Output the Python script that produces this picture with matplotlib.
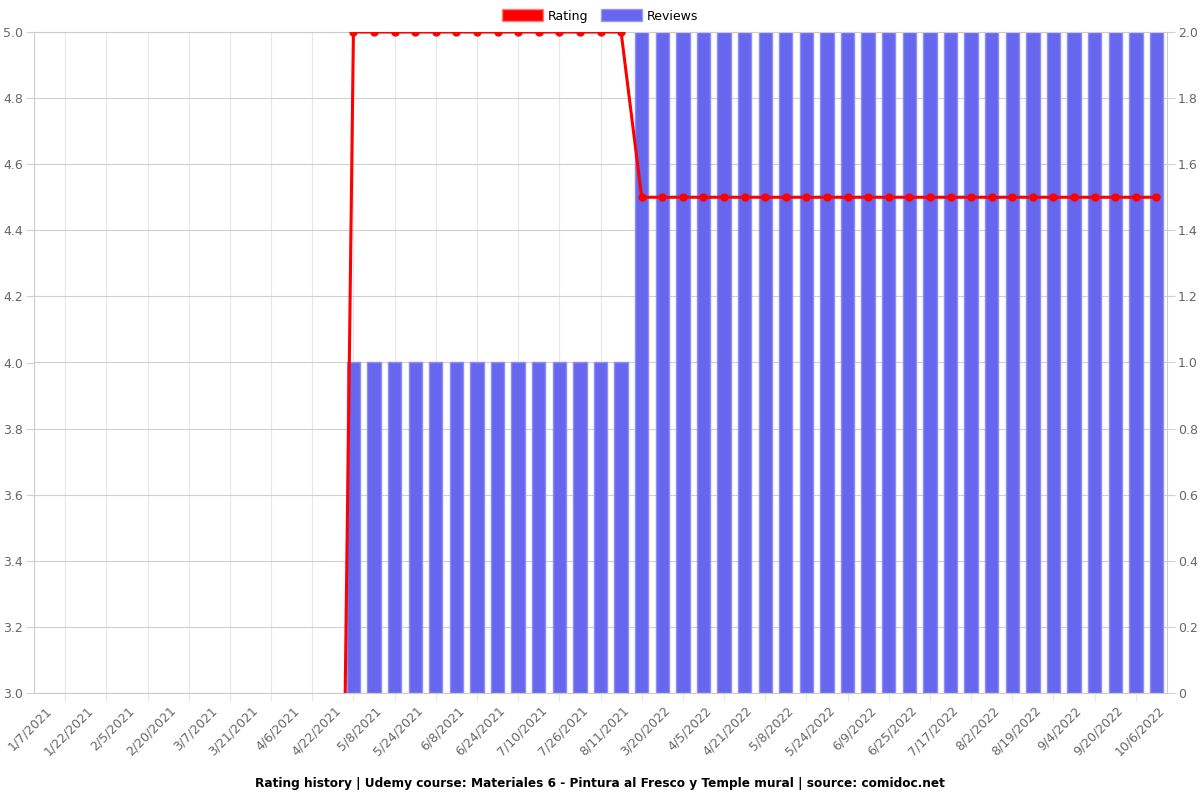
import matplotlib
matplotlib.use("Agg")
import matplotlib.pyplot as plt
import matplotlib.transforms as mtransforms
import numpy as np
from matplotlib.patches import Patch

# labels visible under the axis (every second category is labelled)
tick_labels = ["1/7/2021", "1/22/2021", "2/5/2021", "2/20/2021", "3/7/2021", "3/21/2021",
               "4/6/2021", "4/22/2021", "5/8/2021", "5/24/2021", "6/8/2021", "6/24/2021",
               "7/10/2021", "7/26/2021", "8/11/2021", "3/20/2022", "4/5/2022", "4/21/2022",
               "5/8/2022", "5/24/2022", "6/9/2022", "6/25/2022", "7/17/2022", "8/2/2022",
               "8/19/2022", "9/4/2022", "9/20/2022", "10/6/2022"]

# one value per category (55 categories)
rating = [0, 0, 0, 0, 0, 0, 0, 0, 0, 0, 0, 0, 0, 0, 0,
          5.0, 5.0, 5.0, 5.0, 5.0, 5.0, 5.0, 5.0, 5.0, 5.0, 5.0, 5.0, 5.0, 5.0,
          4.5, 4.5, 4.5, 4.5, 4.5, 4.5, 4.5, 4.5, 4.5, 4.5, 4.5, 4.5, 4.5,
          4.5, 4.5, 4.5, 4.5, 4.5, 4.5, 4.5, 4.5, 4.5, 4.5, 4.5, 4.5, 4.5]
reviews = [0, 0, 0, 0, 0, 0, 0, 0, 0, 0, 0, 0, 0, 0, 0,
           1, 1, 1, 1, 1, 1, 1, 1, 1, 1, 1, 1, 1, 1,
           2, 2, 2, 2, 2, 2, 2, 2, 2, 2, 2, 2, 2,
           2, 2, 2, 2, 2, 2, 2, 2, 2, 2, 2, 2, 2]

title = "Rating history | Udemy course: Materiales 6 - Pintura al Fresco y Temple mural | source: comidoc.net"

x = np.arange(len(rating))
label_pos = x[::2]
grid_pos = x[1::2]

fig = plt.figure(figsize=(12, 8), dpi=100)
ax = fig.add_axes([34.3 / 1200, 1 - 693 / 800, (1166.7 - 34.3) / 1200, (693 - 32) / 800])
ax2 = ax.twinx()

# reviews bars on the primary axes, their scale shown on the right
edge = ["none" if v == 0 else "#8f8ff3" for v in reviews]
ax.bar(x, reviews, width=0.65, color="#6666ee", edgecolor=edge, linewidth=1, zorder=2)
ax.set_ylim(0, 2)
ax.set_xlim(-0.5, len(rating) - 0.5)
ax.set_yticks(np.arange(0, 2.01, 0.2))
ax.set_yticklabels(["0"] + ["%.1f" % v for v in np.arange(0.2, 2.01, 0.2)])
ax.yaxis.tick_right()
ax.tick_params(axis="y", labelcolor="#666666", color="#d0d0d0", labelsize=9, length=6, width=0.8, pad=2)
ax.grid(axis="y", color="#d0d0d0", linewidth=0.8, zorder=0)

ax.set_xticks(label_pos)
ax.set_xticklabels(tick_labels, rotation=45, ha="right", rotation_mode="anchor")
ax.set_xticks(grid_pos, minor=True)
ax.tick_params(axis="x", which="major", length=0, labelsize=9, labelcolor="#666666", pad=8)
ax.tick_params(axis="x", which="minor", length=6, color="#e6e6e6", width=0.8)
ax.grid(axis="x", which="minor", color="#e6e6e6", linewidth=0.8, zorder=0)
ax.set_axisbelow(True)
shift = mtransforms.ScaledTranslation(0.01, 0, fig.dpi_scale_trans)
for lbl in ax.get_xticklabels():
    lbl.set_transform(lbl.get_transform() + shift)
for sp in ax.spines.values():
    sp.set_color("#cccccc")
    sp.set_linewidth(0.8)

# rating line on the twin axes, scale on the left
ax2.plot(x, rating, color="#ff0000", linewidth=2.2, marker="o", markersize=5, zorder=3)
ax2.set_ylim(3, 5)
ax2.set_yticks(np.arange(3, 5.01, 0.2))
ax2.set_yticklabels(["%.1f" % v for v in np.arange(3, 5.01, 0.2)])
ax2.yaxis.tick_left()
ax2.tick_params(axis="y", labelcolor="#666666", color="#d0d0d0", labelsize=9, length=6, width=0.8, pad=2)
for sp in ax2.spines.values():
    sp.set_visible(False)

handles = [Patch(facecolor="#ff0000", edgecolor="#ff8080", label="Rating"),
           Patch(facecolor="#6666ee", edgecolor="#9999f3", label="Reviews")]
fig.legend(handles=handles, loc="center", bbox_to_anchor=(0.5, 1 - 16 / 800), ncol=2,
           frameon=False, fontsize=9, handlelength=3.3, handleheight=1.1,
           columnspacing=1.0, handletextpad=0.4)

fig.text(0.5, 1 - 783 / 800, title, ha="center", va="center", fontsize=8.7, fontweight="bold")

fig.savefig("out.png", dpi=100)
